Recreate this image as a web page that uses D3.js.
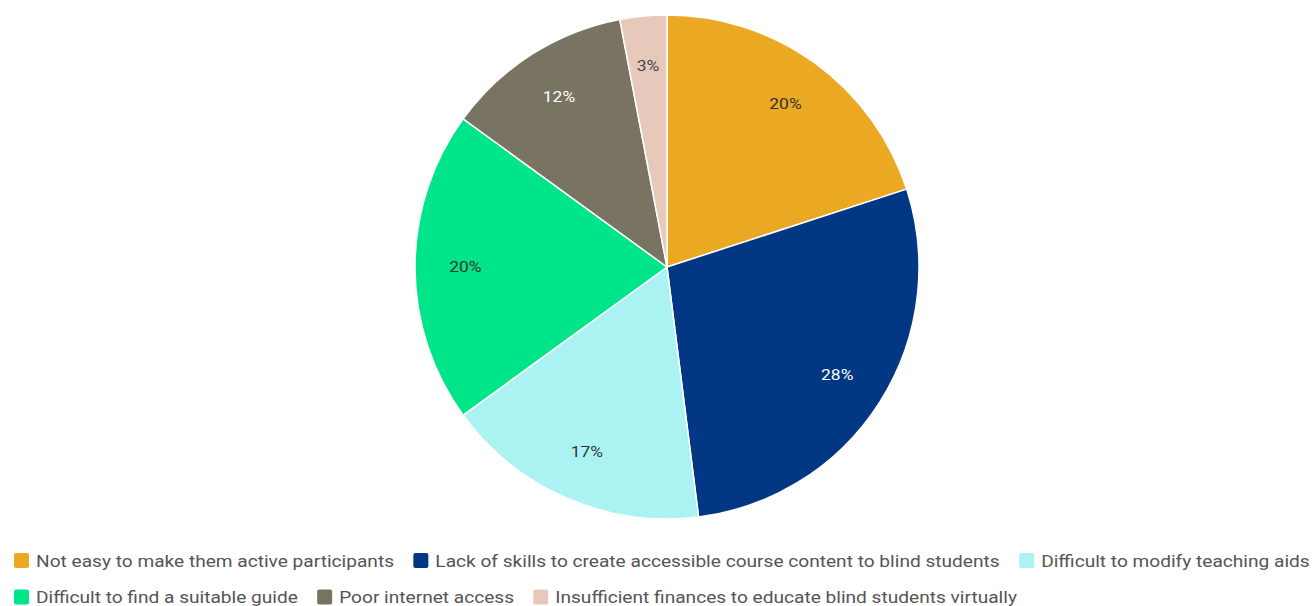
<!DOCTYPE html>
<html>
<head>
<meta charset="utf-8">
<script src="https://cdn.jsdelivr.net/npm/d3@7"></script>
<style>
  html, body { margin: 0; padding: 0; background: #fff; }
  svg { display: block; font-family: Roboto, "Noto Sans", sans-serif; }
</style>
</head>
<body>
<svg id="chart" width="1316" height="606"></svg>
<script>
// Challenges reported in teaching blind students online (share of responses, %)
const categories = [
  "Not easy to make them active participants",
  "Lack of skills to create accessible course content to blind students",
  "Difficult to modify teaching aids",
  "Difficult to find a suitable guide",
  "Poor internet access",
  "Insufficient finances to educate blind students virtually"
];
const values = [20, 28, 17, 20, 12, 3];
const colors = ["#EBA823", "#023883", "#ABF3F3", "#00E58A", "#787461", "#E6C9BB"];
const labelColors = ["#333333", "#ffffff", "#333333", "#333333", "#ffffff", "#444444"];

const width = 1316, height = 606;
const cx = 667, cy = 267, radius = 252;
const stretch = 1.125; // text is set slightly wide

const svg = d3.select("#chart");
const data = categories.map((c, i) => ({ name: c, value: values[i], i }));

const pie = d3.pie().value(d => d.value).sort(null);
const arc = d3.arc().innerRadius(0).outerRadius(radius);
const labelArc = d3.arc().innerRadius(radius * 0.8).outerRadius(radius * 0.8);

const g = svg.append("g").attr("transform", `translate(${cx},${cy})`);
const arcs = pie(data);

g.selectAll("path.slice")
  .data(arcs)
  .join("path")
  .attr("class", "slice")
  .attr("d", arc)
  .attr("fill", d => colors[d.data.i])
  .attr("stroke", "#ffffff")
  .attr("stroke-width", 1.5);

g.selectAll("text.pct")
  .data(arcs)
  .join("text")
  .attr("class", "pct")
  .attr("transform", d => `translate(${labelArc.centroid(d)}) scale(${stretch},1)`)
  .attr("text-anchor", "middle")
  .attr("dominant-baseline", "central")
  .attr("font-size", 15.5)
  .attr("fill", d => labelColors[d.data.i])
  .text(d => d.data.value + "%");

// Legend: flows left to right, wraps when the row is full
const legend = svg.append("g").attr("class", "legend");
const rowsY = [560.5, 597];
const startX = 14, sw = 15, textGap = 7, itemGap = 19, maxX = 1316;
let x = startX, row = 0;
data.forEach(d => {
  const item = legend.append("g");
  const tg = item.append("g");
  const t = tg.append("text")
    .attr("font-size", 17)
    .attr("fill", "#555555")
    .attr("dominant-baseline", "central")
    .text(d.name);
  const tw = t.node().getComputedTextLength() * stretch;
  if (x + sw + textGap + tw > maxX && x > startX) { row += 1; x = startX; }
  const y = rowsY[row];
  item.insert("rect", "g")
    .attr("x", x).attr("y", y - sw / 2)
    .attr("width", sw).attr("height", sw)
    .attr("rx", 2)
    .attr("fill", colors[d.i]);
  tg.attr("transform", `translate(${x + sw + textGap},${y}) scale(${stretch},1)`);
  x += sw + textGap + tw + itemGap;
});
</script>
</body>
</html>
